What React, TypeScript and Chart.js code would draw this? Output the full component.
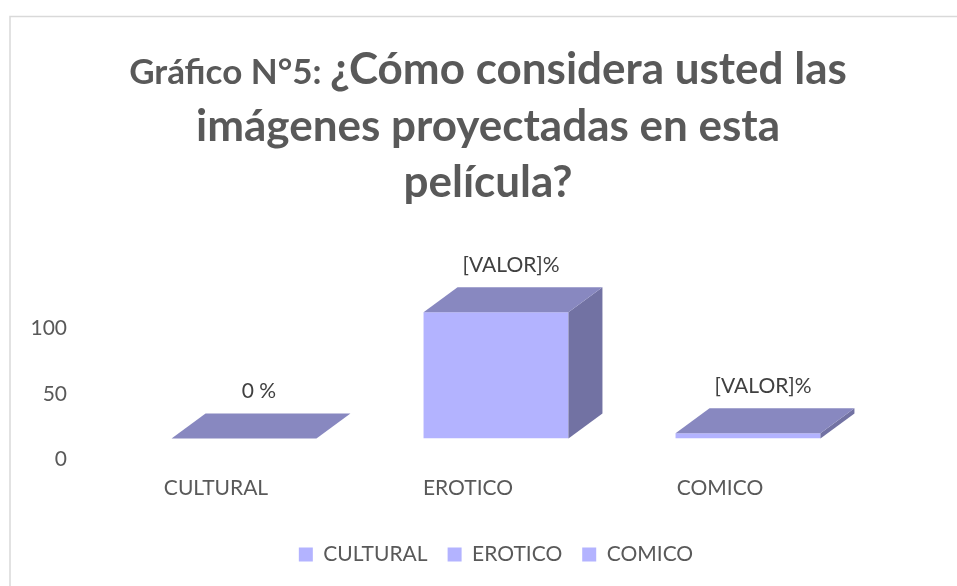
import React, { useEffect, useRef } from "react";
import { Chart, registerables } from "chart.js";

Chart.register(...registerables);

const categories = ["CULTURAL", "EROTICO", "COMICO"];
const values = [0, 96, 4];
const dataLabels = ["0 %", "[VALOR]%", "[VALOR]%"];
const yTicks = [0, 50, 100];
const titlePrefix = "Gráfico N°5: ";
const titleLines = ["¿Cómo considera usted las", "imágenes proyectadas en esta", "película?"];

const FONT = "Lato, 'Open Sans', sans-serif";
const FRONT = "#B3B3FF";
const TOPC = "#8888C0";
const SIDE = "#7272A3";
const DX = 34;
const DY = 25;
const TEXT = "#595959";

const framePlugin = {
  id: "frame",
  beforeDraw(chart: any) {
    const ctx = chart.ctx;
    ctx.save();
    ctx.fillStyle = "#ffffff";
    ctx.fillRect(0, 0, chart.width, chart.height);
    ctx.strokeStyle = "#D9D9D9";
    ctx.lineWidth = 1.5;
    ctx.strokeRect(10, 16.5, chart.width + 40, chart.height + 40);
    ctx.restore();
  },
};

const titlePlugin = {
  id: "bigTitle",
  afterDraw(chart: any) {
    const ctx = chart.ctx;
    const cx = 488;
    ctx.save();
    ctx.fillStyle = TEXT;
    ctx.textBaseline = "alphabetic";
    ctx.textAlign = "left";
    const smallFont = `bold 35px ${FONT}`;
    const bigFont = `bold 44px ${FONT}`;
    ctx.font = smallFont;
    const w1 = ctx.measureText(titlePrefix).width;
    ctx.font = bigFont;
    const w2 = ctx.measureText(titleLines[0]).width;
    const x = cx - (w1 + w2) / 2;
    ctx.font = smallFont;
    ctx.fillText(titlePrefix, x, 84);
    ctx.font = bigFont;
    ctx.fillText(titleLines[0], x + w1, 84);
    ctx.textAlign = "center";
    ctx.fillText(titleLines[1], cx, 141);
    ctx.fillText(titleLines[2], cx, 197);
    ctx.restore();
  },
};

const bar3dPlugin = {
  id: "bar3d",
  afterDatasetsDraw(chart: any) {
    const ctx = chart.ctx;
    const meta = chart.getDatasetMeta(0);
    meta.data.forEach((el: any, i: number) => {
      const { x, y, base, width } = el.getProps(["x", "y", "base", "width"], true);
      const l = x - width / 2;
      const r = x + width / 2;
      ctx.save();
      ctx.fillStyle = SIDE;
      ctx.beginPath();
      ctx.moveTo(r, y);
      ctx.lineTo(r + DX, y - DY);
      ctx.lineTo(r + DX, base - DY);
      ctx.lineTo(r, base);
      ctx.closePath();
      ctx.fill();
      ctx.fillStyle = TOPC;
      ctx.beginPath();
      ctx.moveTo(l, y);
      ctx.lineTo(r, y);
      ctx.lineTo(r + DX, y - DY);
      ctx.lineTo(l + DX, y - DY);
      ctx.closePath();
      ctx.fill();
      ctx.fillStyle = "#404040";
      ctx.font = `21px ${FONT}`;
      ctx.textAlign = "center";
      ctx.textBaseline = "middle";
      ctx.fillText(dataLabels[i], x + DX / 2 - 2, y - DY - 22);
      ctx.restore();
    });
  },
};

export default function App() {
  const ref = useRef<HTMLCanvasElement | null>(null);
  useEffect(() => {
    if (!ref.current) return;
    const chart = new Chart(ref.current, {
      type: "bar",
      data: {
        labels: categories,
        datasets: [
          {
            label: "Serie",
            data: values,
            backgroundColor: FRONT,
            borderWidth: 0,
            barPercentage: 0.575,
            categoryPercentage: 1,
          },
        ],
      },
      options: {
        responsive: false,
        animation: false,
        events: [],
        layout: { padding: { left: 0, right: 83, top: 307, bottom: 11 } },
        scales: {
          x: {
            grid: { display: false, drawTicks: false },
            border: { display: false },
            ticks: {
              color: TEXT,
              font: { family: FONT, size: 21 },
              padding: 37,
              labelOffset: -28,
              maxRotation: 0,
            },
            afterFit: (s: any) => {
              s.height = 85.5;
            },
          },
          y: {
            min: 0,
            max: 100,
            grid: { display: false, drawTicks: false },
            border: { display: false },
            ticks: {
              color: TEXT,
              font: { family: FONT, size: 21 },
              padding: 51,
              labelOffset: 21,
            },
            afterBuildTicks: (s: any) => {
              s.ticks = yTicks.map((v) => ({ value: v }));
            },
            afterFit: (s: any) => {
              s.width = 118;
            },
          },
        },
        plugins: {
          title: { display: false },
          tooltip: { enabled: false },
          legend: {
            position: "bottom",
            fullSize: false,
            labels: {
              boxWidth: 14,
              boxHeight: 14,
              padding: 20,
              color: TEXT,
              font: { family: FONT, size: 21 },
              generateLabels: () =>
                categories.map((c) => ({
                  text: c,
                  fillStyle: FRONT,
                  strokeStyle: FRONT,
                  lineWidth: 0,
                  hidden: false,
                  fontColor: TEXT,
                })),
            },
          },
        },
      },
      plugins: [framePlugin, bar3dPlugin, titlePlugin],
    } as any);
    return () => chart.destroy();
  }, []);
  return (
    <div style={{ position: "absolute", left: 0, top: 0, width: 957, height: 586 }}>
      <canvas ref={ref} width={957} height={586} />
    </div>
  );
}
